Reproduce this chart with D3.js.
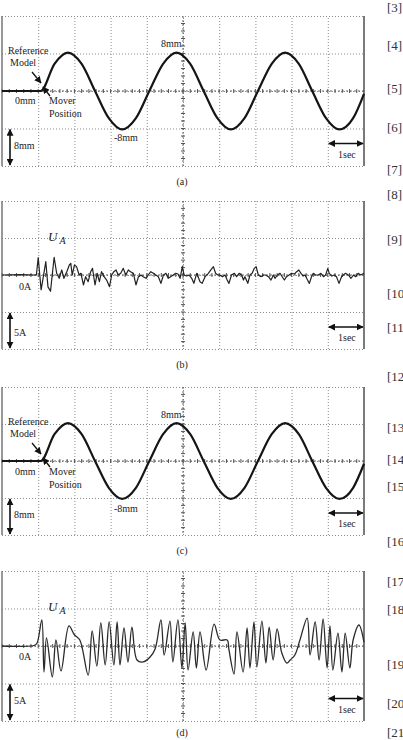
<!DOCTYPE html>
<html>
<head>
<meta charset="utf-8">
<script src="https://cdn.jsdelivr.net/npm/d3@7"></script>
<style>
  body { margin: 0; background: #fff; }
  svg text { font-family: "Liberation Serif", "Times New Roman", serif; fill: #222; }
  .grid line { stroke: #8c8c8c; stroke-dasharray: 1,2; }
  .grid .domain { display: none; }
</style>
</head>
<body>
<svg width="403" height="740"></svg>
<script>

// time axis: 10 divisions, 1 sec each
var timeTicks = [0, 1, 2, 3, 4, 5, 6, 7, 8, 9, 10];

// (a) and (c): reference model / mover position [sec, mm]
var sineT  = [0, 0.5, 1.07, 1.45, 1.82, 2.20, 2.57, 2.95, 3.32, 3.70, 4.07, 4.45, 4.82, 5.20, 5.57, 5.95, 6.32, 6.70, 7.07, 7.45, 7.82, 8.20, 8.57, 8.95, 9.32, 9.70, 10.0];
var sineMm = [0, 0, 0, 5.8, 8.2, 5.8, 0, -5.8, -8.2, -5.8, 0, 5.8, 8.2, 5.8, 0, -5.8, -8.2, -5.8, 0, 5.8, 8.2, 5.8, 0, -5.8, -8.2, -5.8, -0.6];

// (b): current U_A [sec, A]
var currBT = [0, 0.5, 0.95, 1.00, 1.08, 1.14, 1.21, 1.27, 1.34, 1.44, 1.51, 1.58, 1.65, 1.71, 1.79, 1.86, 1.90, 1.94, 2.00, 2.06, 2.13, 2.18, 2.25, 2.31, 2.38, 2.45, 2.50, 2.57, 2.63, 2.69, 2.75, 2.82, 2.89, 2.97, 3.03, 3.09, 3.15, 3.21, 3.28, 3.35, 3.42, 3.49, 3.55, 3.63, 3.70, 3.77, 3.84, 3.90, 3.98, 4.04, 4.11, 4.18, 4.25, 4.32, 4.39, 4.46, 4.53, 4.59, 4.66, 4.73, 4.80, 4.86, 4.92, 4.98, 5.03, 5.10, 5.17, 5.24, 5.30, 5.38, 5.47, 5.53, 5.61, 5.70, 5.77, 5.84, 5.90, 5.96, 6.02, 6.09, 6.16, 6.22, 6.27, 6.34, 6.42, 6.48, 6.55, 6.62, 6.67, 6.71, 6.79, 6.85, 6.91, 6.97, 7.02, 7.08, 7.15, 7.22, 7.28, 7.36, 7.43, 7.50, 7.54, 7.61, 7.68, 7.74, 7.80, 7.86, 7.93, 8.00, 8.08, 8.14, 8.20, 8.26, 8.32, 8.37, 8.44, 8.49, 8.55, 8.60, 8.66, 8.74, 8.81, 8.88, 8.94, 9.00, 9.04, 9.11, 9.18, 9.24, 9.31, 9.38, 9.43, 9.49, 9.57, 9.64, 9.71, 9.77, 9.84, 9.91, 10.0];
var currBA = [0, 0.05, 0, 2.35, -2.0, -0.3, 1.8, -1.6, -2.2, 2.4, 0.23, -0.45, 0.68, -0.45, 0.45, 1.35, 1.58, 0, 1.35, 1.13, 0, 0.23, -1.35, -0.23, -0.9, 0.45, 0.9, -1.35, 0.23, -0.9, 0.45, -0.23, -0.68, -1.58, 0, 0.45, 0.68, 0, 0.23, 0.9, 0, 0.68, 0.45, 0.23, -1.35, -0.23, 0, -0.23, -0.45, 0, 0.45, 0.23, 0, -0.23, -1.13, 0, 0.23, -0.45, -0.23, 0, 0.23, 0.14, -0.45, 1.13, 0, -0.14, 0, -0.45, -1.13, 0.23, -0.9, -1.13, -0.23, 0.23, 0.68, 1.13, 0.23, 0, 0, -0.23, 0, -0.68, -1.13, 0, 0.23, -0.23, 0.23, 0, -0.68, -0.23, -1.13, 0, 0.23, 0.9, 1.13, 0, -0.23, 0, 0, -0.23, -0.68, 0, -0.45, 0, 0.23, -0.23, -0.68, -0.23, 0, 0.23, 0.14, 0.45, 0.68, 0.23, -0.14, 0, -0.68, -1.13, -0.23, 0.23, 0, 0, 0.23, -0.23, 0, 0.9, 0.23, -0.14, 0, -0.23, -1.13, -0.23, 0, 0.23, 0, -0.45, 0, -0.23, 0.23, 0, 0.23];

// (d): current U_A [sec, A]
var currDT = [0, 0.5, 0.9, 0.97, 1.10, 1.16, 1.23, 1.39, 1.49, 1.63, 1.85, 2.00, 2.15, 2.38, 2.49, 2.62, 2.73, 2.85, 2.96, 3.09, 3.18, 3.26, 3.37, 3.48, 3.59, 3.73, 3.90, 4.09, 4.23, 4.39, 4.48, 4.64, 4.72, 4.86, 4.97, 5.06, 5.14, 5.28, 5.37, 5.47, 5.64, 5.86, 6.02, 6.22, 6.27, 6.41, 6.49, 6.66, 6.77, 6.85, 6.96, 7.04, 7.18, 7.29, 7.38, 7.49, 7.60, 7.73, 7.87, 7.96, 8.09, 8.23, 8.43, 8.51, 8.65, 8.76, 8.87, 8.98, 9.06, 9.14, 9.28, 9.39, 9.48, 9.61, 9.70, 9.86, 10.0];
var currDA = [0, -0.05, 0.1, 0.4, 3.47, -3.47, 1.07, -4.13, 0.8, -3.33, 2.67, 1.5, 0.8, -3.87, 2.0, -2.67, 3.07, -2.53, 3.2, -2.53, 3.2, -2.53, 2.4, -2.13, 2.53, -1.87, -2.13, -1.47, -0.4, 3.47, -1.2, 3.33, -2.13, 3.47, -2.93, 3.07, -3.2, 1.87, -2.93, 1.87, -3.2, 2.93, 0.8, 0.8, -0.53, -3.73, 1.87, -3.47, 2.4, -2.93, 3.2, -2.8, 3.33, -2.27, 2.53, -1.87, 2.27, -0.93, -2.27, -1.87, -1.2, 0.8, 3.73, -1.2, 3.2, -1.87, 3.6, -2.93, 2.67, -3.2, 1.73, -3.47, 1.73, -2.93, 0.8, 2.8, 0.5];

// reference numbers in the right margin, as far as the page shows them
var sideLabels = ["[3]", "[4]", "[5]", "[6]", "[7]", "[8]", "[9]", "[10", "[11", "[12", "[13", "[14", "[15", "[16", "[17", "[18", "[19", "[20", "[21"];
var sideLabelY = [12, 50, 93, 132, 174, 199, 244, 298, 332, 381, 432, 464, 491, 546, 586, 614, 669, 708, 737];

var svg = d3.select("svg");

var defs = svg.append("defs");
defs.append("marker")
    .attr("id", "ah")
    .attr("viewBox", "0 0 10 10")
    .attr("refX", 9).attr("refY", 5)
    .attr("markerWidth", 7).attr("markerHeight", 7)
    .attr("markerUnits", "userSpaceOnUse")
    .attr("orient", "auto-start-reverse")
  .append("path")
    .attr("d", "M0,0L10,5L0,10z")
    .attr("fill", "#111");

var x = d3.scaleLinear().domain([0, 10]).range([2, 364]);

function panel(p) {
  var y = d3.scaleLinear().domain([-2 * p.div, 2 * p.div]).range([p.bottom, p.top]);
  var g = svg.append("g");
  var h = p.bottom - p.top;

  // dotted grid
  g.append("g").attr("class", "grid")
      .attr("transform", "translate(0," + p.bottom + ")")
      .call(d3.axisBottom(x).tickValues(timeTicks.slice(1, 10)).tickSize(-h).tickFormat(""));
  g.append("g").attr("class", "grid")
      .attr("transform", "translate(2,0)")
      .call(d3.axisLeft(y).tickValues([-2, -1, 0, 1, 2].map(function(k) { return k * p.div; }))
        .tickSize(-362).tickFormat(""));

  // centre lines with minor ticks
  var cy = y(0), cx = x(5);
  g.append("line").attr("x1", x(0)).attr("x2", x(10)).attr("y1", cy).attr("y2", cy)
      .attr("stroke", "#666").attr("stroke-dasharray", "2,2");
  g.append("line").attr("x1", cx).attr("x2", cx).attr("y1", p.top).attr("y2", p.bottom)
      .attr("stroke", "#666").attr("stroke-dasharray", "2,2");
  g.selectAll(".mtx").data(d3.range(0, 50)).enter().append("line")
      .attr("x1", function(d) { return x(d / 5); }).attr("x2", function(d) { return x(d / 5); })
      .attr("y1", cy - 2).attr("y2", cy + 2).attr("stroke", "#555");
  g.selectAll(".mty").data(d3.range(1, 20)).enter().append("line")
      .attr("y1", function(d) { return y(-2 * p.div + d * p.div / 5); })
      .attr("y2", function(d) { return y(-2 * p.div + d * p.div / 5); })
      .attr("x1", cx - 2).attr("x2", cx + 2).attr("stroke", "#555");

  // frame sides
  g.append("line").attr("x1", 2).attr("x2", 2).attr("y1", p.top).attr("y2", p.bottom)
      .attr("stroke", "#777").attr("stroke-width", 1.5);
  g.append("line").attr("x1", 364).attr("x2", 364).attr("y1", p.top).attr("y2", p.bottom)
      .attr("stroke", "#222").attr("stroke-width", 1.2);

  // trace
  var line = d3.line()
      .x(function(d, i) { return x(p.t[i]); })
      .y(function(d) { return y(d); })
      .curve(p.curve);
  g.append("path").datum(p.v)
      .attr("d", line)
      .attr("fill", "none")
      .attr("stroke", p.color)
      .attr("stroke-width", p.width)
      .attr("stroke-linejoin", "round");

  // scale bars
  g.append("line").attr("x1", 10).attr("x2", 10)
      .attr("y1", y(-p.div) + 1).attr("y2", p.bottom - 1)
      .attr("stroke", "#111").attr("stroke-width", 1.6)
      .attr("marker-start", "url(#ah)").attr("marker-end", "url(#ah)");
  g.append("text").attr("x", 14).attr("y", p.top + p.barTextDy)
      .style("font-size", "10px").text(p.barText);
  g.append("line").attr("x1", x(9) + 1).attr("x2", x(10) - 1)
      .attr("y1", y(-p.div) + 15).attr("y2", y(-p.div) + 15)
      .attr("stroke", "#111").attr("stroke-width", 1.6)
      .attr("marker-start", "url(#ah)").attr("marker-end", "url(#ah)");
  g.append("text").attr("x", x(9.5) + 1).attr("y", y(-p.div) + 29)
      .attr("text-anchor", "middle").style("font-size", "10px").text("1sec");

  // caption
  g.append("text").attr("x", 182).attr("y", p.capY)
      .attr("text-anchor", "middle").style("font-size", "10px").text(p.cap);

  return { g: g, y: y };
}

function positionNotes(pp, top) {
  var g = pp.g;
  var fs = "10px";
  g.append("text").attr("x", 8).attr("y", top + 38).style("font-size", fs).text("Reference");
  g.append("text").attr("x", 10).attr("y", top + 50).style("font-size", fs).text("Model");
  g.append("line").attr("x1", 32).attr("y1", top + 56).attr("x2", 41).attr("y2", top + 67)
      .attr("stroke", "#111").attr("stroke-width", 1.3).attr("marker-end", "url(#ah)");
  g.append("line").attr("x1", 50).attr("y1", top + 80).attr("x2", 43).attr("y2", top + 71)
      .attr("stroke", "#111").attr("stroke-width", 1.3).attr("marker-end", "url(#ah)");
  g.append("text").attr("x", 49).attr("y", top + 88).style("font-size", fs).text("Mover");
  g.append("text").attr("x", 49).attr("y", top + 101).style("font-size", fs).text("Position");
  g.append("text").attr("x", 15).attr("y", top + 88).style("font-size", fs).text("0mm");
  g.append("text").attr("x", 161).attr("y", top + 31).style("font-size", fs).text("8mm");
  g.append("text").attr("x", 114).attr("y", top + 125).style("font-size", fs).text("-8mm");
}

function currentNotes(pp, top) {
  var g = pp.g;
  var t = g.append("text").attr("x", 48).attr("y", top + 40)
      .style("font-style", "italic").style("font-size", "13px");
  t.append("tspan").text("U");
  t.append("tspan").attr("dx", 2).attr("dy", 3).style("font-size", "10px").text("A");
  g.append("text").attr("x", 19).attr("y", top + 89).style("font-size", "10px").text("0A");
}

var pa = panel({ top: 16, bottom: 166, div: 8, t: sineT, v: sineMm, curve: d3.curveMonotoneX,
                 color: "#151515", width: 2.2, barText: "8mm", barTextDy: 133, cap: "(a)", capY: 185 });
positionNotes(pa, 16);

var pb = panel({ top: 201, bottom: 349, div: 5, t: currBT, v: currBA, curve: d3.curveLinear,
                 color: "#222", width: 1.2, barText: "5A", barTextDy: 135, cap: "(b)", capY: 368 });
currentNotes(pb, 201);

var pc = panel({ top: 387, bottom: 535, div: 8, t: sineT, v: sineMm, curve: d3.curveMonotoneX,
                 color: "#151515", width: 2.2, barText: "8mm", barTextDy: 131, cap: "(c)", capY: 554 });
positionNotes(pc, 387);

var pd = panel({ top: 571, bottom: 721, div: 5, t: currDT, v: currDA, curve: d3.curveCatmullRom.alpha(0.5),
                 color: "#2a2a2a", width: 1.3, barText: "5A", barTextDy: 133, cap: "(d)", capY: 736 });
currentNotes(pd, 571);

svg.selectAll(".side").data(sideLabels).enter().append("text")
    .attr("class", "side")
    .attr("x", 387)
    .attr("y", function(d, i) { return sideLabelY[i]; })
    .style("font-size", "13px").style("fill", "#333")
    .text(function(d) { return d; });

</script>
</body>
</html>
